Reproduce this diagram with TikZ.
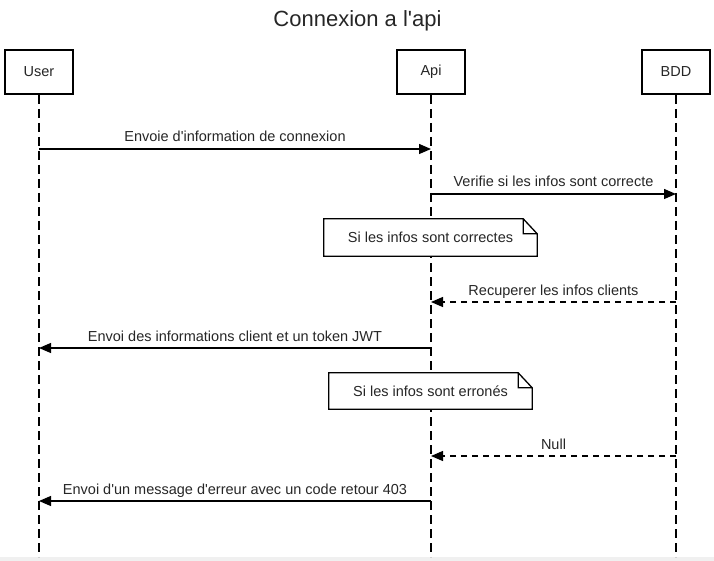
\documentclass[tikz,border=0pt]{standalone}
\usepackage{fontspec}
\setmainfont[Ligatures=TeXOff]{Liberation Sans}
\usetikzlibrary{arrows.meta}
\begin{document}
\begin{tikzpicture}[x=1pt,y=-1pt,
		every node/.style={text=black!85,font=\fontsize{14.5}{17}\selectfont},
		actor/.style={draw=black,line width=2pt,minimum width=68pt,minimum height=44pt,inner sep=0pt},
		lifeline/.style={line width=1.2pt,dash pattern=on 9pt off 5pt},
		msg/.style={line width=1.3pt,-{Triangle[length=12pt,width=10pt]}},
		reply/.style={msg,dash pattern=on 6pt off 5pt},
		lbl/.style={anchor=base,yshift=7pt,inner sep=0pt},
		note/.style={fill=white,minimum height=37pt,inner sep=0pt}]
\useasboundingbox (0,0) rectangle (714,561);
\fill[black!6] (0,557) rectangle (714,561);
\node[font=\fontsize{22}{26}\selectfont,anchor=base] (title) at (357.5,27) {Connexion a l'api};
% lifelines
\node[actor] (user) at (39,72) {User};
\node[actor] (api) at (431,72) {Api};
\node[actor] (bdd) at (676,72) {BDD};
\foreach \a in {user,api,bdd}
	\draw[lifeline] (\a.south) -- (\a |- 0,557);
% notes
\node[note,minimum width=213pt] (ok) at (430.5,237.5) {Si les infos sont correctes};
\node[note,minimum width=203pt,minimum height=36pt] (err) at (430.5,391) {Si les infos sont erronés};
\foreach \n in {ok,err}
	\draw[line width=1.3pt] (\n.south west) -- (\n.north west) -- ([xshift=-14pt]\n.north east)
		-- ([yshift=-15pt]\n.north east) -- (\n.south east) -- cycle
		([xshift=-14pt]\n.north east) -- ([xshift=-14pt,yshift=-15pt]\n.north east) -- ([yshift=-15pt]\n.north east);
% messages
\foreach \f/\t/\y/\s/\txt [count=\i] in {
	user/api/149/msg/Envoie d'information de connexion,
	api/bdd/194/msg/Verifie si les infos sont correcte,
	bdd/api/302/reply/Recuperer les infos clients,
	api/user/348/msg/Envoi des informations client et un token JWT,
	bdd/api/456/reply/Null,
	api/user/501/msg/Envoi d'un message d'erreur avec un code retour 403}
	\draw[\s] (\f |- 0,\y) -- node[lbl] (m\i) {\txt} (\t |- 0,\y);
\end{tikzpicture}
\end{document}
